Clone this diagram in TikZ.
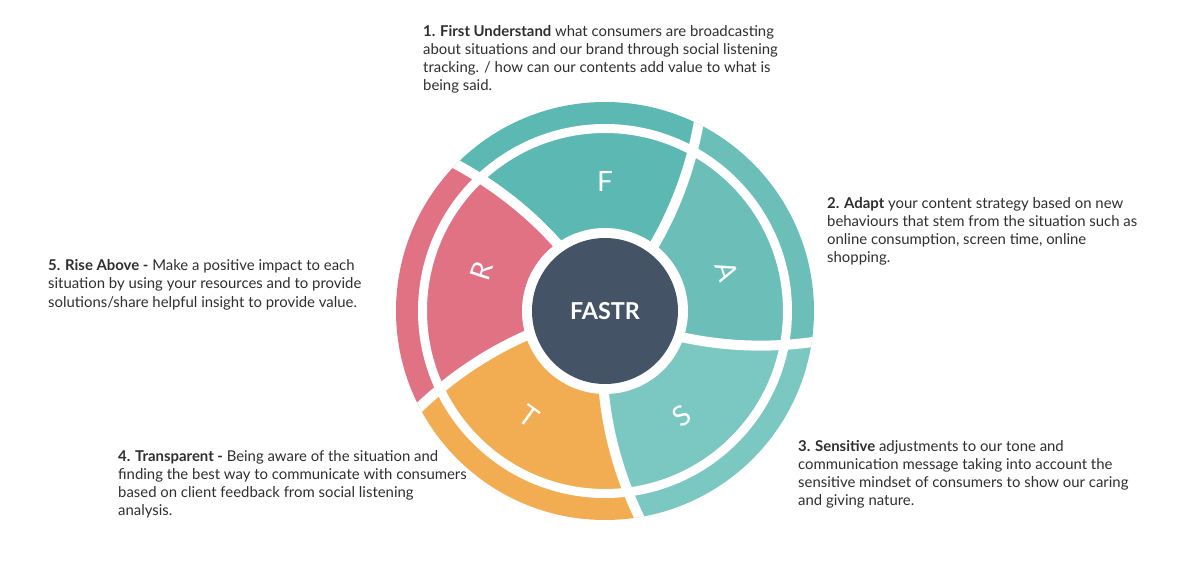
\documentclass[tikz,border=0pt]{standalone}
\usepackage{fontspec}
\setmainfont{Lato}
\definecolor{cF}{HTML}{5BB8B2}
\definecolor{cA}{HTML}{6CBEB9}
\definecolor{cS}{HTML}{7BC7C1}
\definecolor{cT}{HTML}{F2AC52}
\definecolor{cR}{HTML}{E07283}
\definecolor{cDark}{HTML}{455367}
\definecolor{cText}{HTML}{2E2E2E}
\tikzset{
  desc/.style={anchor=base west, inner sep=0pt, text=cText, font=\fontsize{14.9}{18}\selectfont},
  letter/.style={text=white, inner sep=0pt, font=\fontsize{28}{30}\selectfont},
  gapline/.style={draw=white, line width=10},
}
\newcommand{\desclines}[1]{\vtop{\baselineskip=18pt\lineskiplimit=-10pt #1}}
\begin{document}
\begin{tikzpicture}[x=1pt,y=1pt]
\useasboundingbox (-605,-270) rectangle (595,311);
\begin{scope}
  \clip (0,0) circle (209);
  \foreach \a/\col in {125.5/cF, 53.5/cA, -18.5/cS, -90.5/cT, -162.5/cR}{
    \pgfmathsetmacro{\b}{\a-72}
    \pgfmathsetmacro{\ea}{\a+0.08*140}
    \pgfmathsetmacro{\eb}{\b+0.08*140}
    \fill[\col] (0,0) -- plot[domain=0:225, samples=30, variable=\r] ({\a+0.08*(\r-85)}:\r)
      arc[start angle=\ea, end angle=\eb, radius=225]
      -- plot[domain=225:0, samples=30, variable=\r] ({\b+0.08*(\r-85)}:\r) -- cycle;
  }
  \foreach \a in {125.5, 53.5, -18.5, -90.5, -162.5}{
    \draw[gapline] plot[domain=60:225, samples=30, variable=\r] ({\a+0.08*(\r-85)}:\r);
  }
  \draw[white, line width=9] (0,0) circle (182.5);
\end{scope}
\fill[white] (0,0) circle (83);
\node[circle, fill=cDark, minimum size=146, inner sep=0pt, text=white,
  font=\fontsize{23.3}{28}\selectfont\bfseries] (hub) at (0,0) {FASTR};
\node[letter, rotate=0] (lF) at (90:130) {F};
\node[letter, rotate=-72] (lA) at (18:128) {A};
\node[letter, rotate=36] (lS) at (-54:130) {S};
\node[letter, rotate=-36] (lT) at (-126:130) {T};
\node[letter, rotate=72] (lR) at (162:130) {R};
\node[desc] (t1) at (-182,274) {\desclines{%
  \hbox{\textbf{1. First Understand} what consumers are broadcasting}
  \hbox{about situations and our brand through social listening}
  \hbox{tracking. / how can our contents add value to what is}
  \hbox{being said.}}};
\node[desc] (t2) at (222,102) {\desclines{%
  \hbox{\textbf{2. Adapt} your content strategy based on new}
  \hbox{behaviours that stem from the situation such as}
  \hbox{online consumption, screen time, online}
  \hbox{shopping.}}};
\node[desc] (t3) at (193,-140) {\desclines{%
  \hbox{\textbf{3. Sensitive} adjustments to our tone and}
  \hbox{communication message taking into account the}
  \hbox{sensitive mindset of consumers to show our caring}
  \hbox{and giving nature.}}};
\node[desc] (t4) at (-487,-150) {\desclines{%
  \hbox{\textbf{4. Transparent -} Being aware of the situation and}
  \hbox{finding the best way to communicate with consumers}
  \hbox{based on client feedback from social listening}
  \hbox{analysis.}}};
\node[desc] (t5) at (-557,40) {\desclines{%
  \hbox{\textbf{5. Rise Above -} Make a positive impact to each}
  \hbox{situation by using your resources and to provide}
  \hbox{solutions/share helpful insight to provide value.}}};
\end{tikzpicture}
\end{document}
